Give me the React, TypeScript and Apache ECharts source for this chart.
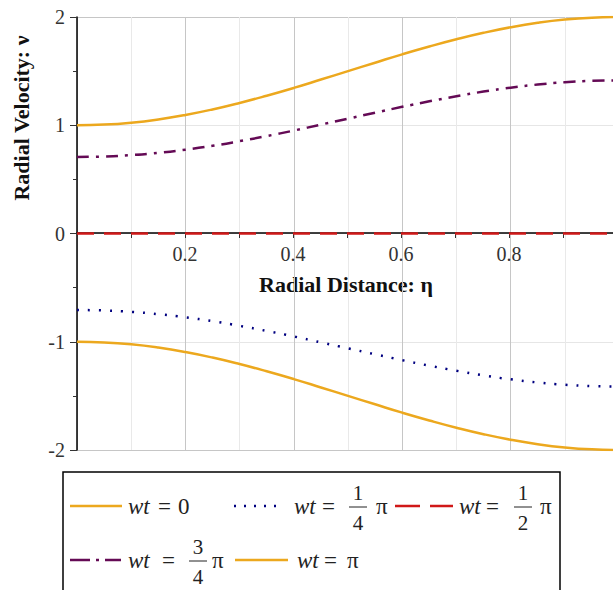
import React, { useEffect, useRef } from "react";
import * as echarts from "echarts";

const eta = [0, 0.05, 0.1, 0.15, 0.2, 0.25, 0.3, 0.35, 0.4, 0.45, 0.5, 0.55, 0.6, 0.65, 0.7, 0.75, 0.8, 0.85, 0.9, 0.95, 1.0];
const vWt0 = [1.0, 1.006, 1.024, 1.054, 1.095, 1.146, 1.206, 1.273, 1.345, 1.422, 1.5, 1.578, 1.655, 1.727, 1.794, 1.854, 1.905, 1.946, 1.976, 1.994, 2.0];
const vWtQuarter = [-0.707, -0.711, -0.724, -0.745, -0.774, -0.81, -0.853, -0.9, -0.951, -1.006, -1.061, -1.116, -1.17, -1.221, -1.268, -1.311, -1.347, -1.376, -1.397, -1.41, -1.414];
const vWtHalf = [0, 0, 0, 0, 0, 0, 0, 0, 0, 0, 0, 0, 0, 0, 0, 0, 0, 0, 0, 0, 0];
const vWtThreeQuarter = [0.707, 0.711, 0.724, 0.745, 0.774, 0.81, 0.853, 0.9, 0.951, 1.006, 1.061, 1.116, 1.17, 1.221, 1.268, 1.311, 1.347, 1.376, 1.397, 1.41, 1.414];
const vWtPi = [-1.0, -1.006, -1.024, -1.054, -1.095, -1.146, -1.206, -1.273, -1.345, -1.422, -1.5, -1.578, -1.655, -1.727, -1.794, -1.854, -1.905, -1.946, -1.976, -1.994, -2.0];
const xTickLabels = ["0.2", "0.4", "0.6", "0.8"];
const yTickLabels = ["-2", "-1", "0", "1", "2"];

const ORANGE = "#ECA81E";
const NAVY = "#000080";
const RED = "#D01818";
const PURPLE = "#640A55";
const SERIF = "'Liberation Serif', 'Times New Roman', serif";

const zip = (ys: number[]) => eta.map((x, i) => [x, ys[i]]);

export default function App() {
  const ref = useRef<HTMLDivElement>(null);
  useEffect(() => {
    if (!ref.current) return;
    const chart = echarts.init(ref.current, undefined, { renderer: "svg" });
    const txt = (x: number, y: number, text: string, opts: any = {}) => ({
      type: "text",
      x,
      y,
      style: {
        text,
        fill: "#222",
        font: `${opts.italic ? "italic " : ""}${opts.size || 23}px ${SERIF}`,
        textAlign: opts.align || "left",
        textVerticalAlign: "middle",
      },
    });
    const seg = (x1: number, x2: number, y: number, color: string, dash: any) => ({
      type: "line",
      shape: { x1, y1: y, x2, y2: y },
      style: { stroke: color, lineWidth: 2.5, lineDash: dash },
    });
    const frac = (cx: number, yc: number, num: string, den: string) => [
      txt(cx, yc - 14, num, { align: "center", size: 21 }),
      { type: "line", shape: { x1: cx - 9, y1: yc, x2: cx + 9, y2: yc }, style: { stroke: "#222", lineWidth: 1 } },
      txt(cx, yc + 16, den, { align: "center", size: 21 }),
    ];
    const r1 = 506;
    const r2 = 560;
    const option: any = {
      animation: false,
      grid: [
        { left: 77, right: 1, top: 17, bottom: 140, containLabel: false },
        { left: 77, right: 1, top: 17, height: 216, containLabel: false },
      ],
      xAxis: [
        {
          type: "value",
          gridIndex: 0,
          min: 0,
          max: 1,
          interval: 0.1,
          axisLine: { show: false },
          axisTick: { show: false },
          axisLabel: { show: false },
          splitLine: { show: true, lineStyle: { color: ["#c6c6c6", "#e9e9e9"], width: 1 } },
        },
        {
          type: "value",
          gridIndex: 1,
          position: "bottom",
          min: 0,
          max: 1,
          interval: 0.1,
          axisLine: { show: true, onZero: false, lineStyle: { color: "#000", width: 1.5 } },
          axisTick: { show: true, length: 5, lineStyle: { color: "#333" } },
          axisLabel: {
            margin: 11,
            color: "#333",
            fontFamily: SERIF,
            fontSize: 20,
            showMinLabel: true,
            showMaxLabel: true,
            formatter: (v: number) => {
              const s = v.toFixed(1);
              return xTickLabels.includes(s) ? s : "";
            },
          },
          splitLine: { show: false },
        },
      ],
      yAxis: [
        {
          type: "value",
          gridIndex: 0,
          min: -2,
          max: 2,
          interval: 1,
          axisLine: { show: true, onZero: false, lineStyle: { color: "#000", width: 1.5 } },
          axisTick: { show: true, length: 7, lineStyle: { color: "#333" } },
          minorTick: { show: true, splitNumber: 2, length: 4, lineStyle: { color: "#333" } },
          axisLabel: {
            margin: 12,
            color: "#333",
            fontFamily: SERIF,
            fontSize: 20,
            formatter: (v: number) => {
              const s = String(Math.round(v));
              return yTickLabels.includes(s) ? s : "";
            },
          },
          splitLine: {
            show: true,
            lineStyle: { color: ["#c6c6c6", "#e6e6e6", "#e6e6e6", "#e6e6e6", "#c6c6c6"], width: 1 },
          },
        },
        {
          type: "value",
          gridIndex: 1,
          min: 0,
          max: 2,
          show: false,
          axisLine: { show: false },
          splitLine: { show: false },
        },
      ],
      series: [
        { name: "wt = 0", type: "line", data: zip(vWt0), showSymbol: false, smooth: true, lineStyle: { color: ORANGE, width: 2.5 }, z: 5 },
        { name: "wt = π/4", type: "line", data: zip(vWtQuarter), showSymbol: false, smooth: true, lineStyle: { color: NAVY, width: 2.5, type: [2, 9] }, z: 5 },
        { name: "wt = π/2", type: "line", data: zip(vWtHalf), showSymbol: false, lineStyle: { color: RED, width: 2.5, type: [17, 10] }, z: 6 },
        { name: "wt = 3π/4", type: "line", data: zip(vWtThreeQuarter), showSymbol: false, smooth: true, lineStyle: { color: PURPLE, width: 2.5, type: [12, 7, 3, 7] }, z: 5 },
        { name: "wt = π", type: "line", data: zip(vWtPi), showSymbol: false, smooth: true, lineStyle: { color: ORANGE, width: 2.5 }, z: 5 },
      ],
      graphic: [
        {
          type: "text",
          x: 21,
          y: 118,
          rotation: Math.PI / 2,
          style: {
            text: "Radial Velocity: \u03bd",
            fill: "#111",
            font: `bold 22px ${SERIF}`,
            textAlign: "center",
            textVerticalAlign: "middle",
          },
        },
        {
          type: "text",
          x: 346,
          y: 284,
          style: {
            text: "Radial Distance: \u03b7",
            fill: "#111",
            font: `bold 22px ${SERIF}`,
            textAlign: "center",
            textVerticalAlign: "middle",
          },
        },
        {
          type: "rect",
          shape: { x: 63, y: 472, width: 497, height: 140 },
          style: { fill: "#fff", stroke: "#000", lineWidth: 1.5 },
        },
        seg(70, 122, r1, ORANGE, null),
        txt(128, r1, "wt", { italic: true }),
        txt(158, r1, "="),
        txt(178, r1, "0"),
        seg(234, 276, r1, NAVY, [2, 8]),
        txt(294, r1, "wt", { italic: true }),
        txt(322, r1, "="),
        ...frac(358, r1 + 1, "1", "4"),
        txt(376, r1, "\u03c0"),
        seg(395, 453, r1, RED, [25, 10]),
        txt(459, r1, "wt", { italic: true }),
        txt(486, r1, "="),
        ...frac(523, r1 + 1, "1", "2"),
        txt(540, r1, "\u03c0"),
        seg(70, 121, r2, PURPLE, [20, 6, 3, 6]),
        txt(128, r2, "wt", { italic: true }),
        txt(162, r2, "="),
        ...frac(198, r2 + 1, "3", "4"),
        txt(212, r2, "\u03c0"),
        seg(235, 288, r2, ORANGE, null),
        txt(297, r2, "wt", { italic: true }),
        txt(324, r2, "="),
        txt(347, r2, "\u03c0"),
      ],
    };
    chart.setOption(option);
    return () => chart.dispose();
  }, []);
  return (
    <div style={{ position: "absolute", left: 0, top: 0, width: 613, height: 590, overflow: "hidden", background: "#fff" }}>
      <div ref={ref} style={{ width: 620, height: 590 }} />
    </div>
  );
}
